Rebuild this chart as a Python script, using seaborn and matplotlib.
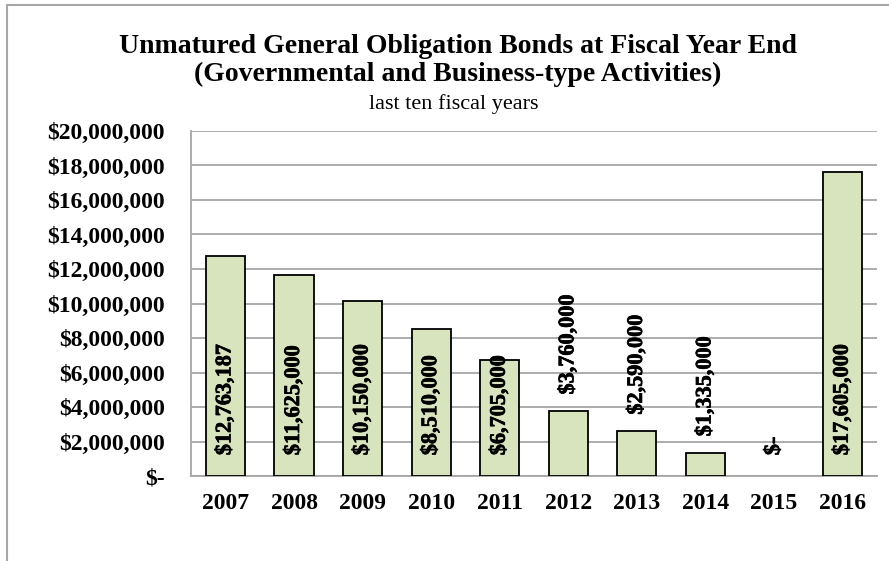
import numpy as np
import pandas as pd
import matplotlib
matplotlib.use("Agg")
import matplotlib.pyplot as plt
import matplotlib.patheffects as pe
import seaborn as sns
from matplotlib.patches import Rectangle
from matplotlib.ticker import FuncFormatter, FixedLocator

# --- data ---
years = ["2007", "2008", "2009", "2010", "2011", "2012", "2013", "2014", "2015", "2016"]
bonds = [12763187, 11625000, 10150000, 8510000, 6705000, 3760000, 2590000, 1335000, 0, 17605000]

df = pd.DataFrame({"year": years, "bonds": bonds})

sns.set_style("white")
plt.rcParams["font.family"] = ["Liberation Serif", "DejaVu Serif"]
plt.rcParams["text.color"] = "black"
plt.rcParams["xtick.labelcolor"] = "black"
plt.rcParams["ytick.labelcolor"] = "black"

fig = plt.figure(figsize=(8.89, 5.61), dpi=100)
ax = fig.add_axes([0.215, 0.1515, 0.7715, 0.615])

sns.barplot(data=df, x="year", y="bonds", color="#d7e4bd", edgecolor="black",
            linewidth=1.3, width=0.57, saturation=1, ax=ax, zorder=3)
# no outline for empty bars
for p in ax.patches:
    if p.get_height() == 0:
        p.set_linewidth(0)

ax.set_ylim(0, 20000000)
ax.set_xlim(-0.5, len(years) - 0.5)
ax.set_yticks(np.arange(0, 20000001, 2000000))

def money(v, pos=None):
    return "$-" if v == 0 else "${:,.0f}".format(v)

ax.yaxis.set_major_formatter(FuncFormatter(money))
ax.grid(axis="y", color="#a6a6a6", linewidth=1.3, zorder=0)
ax.set_axisbelow(True)
ax.set_xlabel("")
ax.set_ylabel("")

for s in ["top", "right"]:
    ax.spines[s].set_visible(False)
for s in ["left", "bottom"]:
    ax.spines[s].set_color("#a6a6a6")
    ax.spines[s].set_linewidth(1.3)

# tick marks at category boundaries, labels centred
ax.xaxis.set_minor_locator(FixedLocator(np.arange(-0.5, len(years), 1)))
ax.tick_params(axis="x", which="major", length=0, pad=12, labelsize=17, labelcolor="black")
ax.tick_params(axis="x", which="minor", length=6, width=1.3, color="#a6a6a6", direction="out")
ax.tick_params(axis="y", length=6, width=1.3, color="#a6a6a6", direction="out", pad=13,
               labelsize=17, labelcolor="black")
for lab in ax.get_xticklabels() + ax.get_yticklabels():
    lab.set_fontweight("bold")

# value labels (rotated, heavy)
heavy = [pe.withStroke(linewidth=0.5, foreground="black")]
for i, v in enumerate(bonds):
    if v >= 5000000 or v == 0:
        xy, off = (i, 0), 15
    else:
        xy, off = (i, v), 12
    ax.annotate(money(v), xy, xytext=(0, off), textcoords="offset points",
                rotation=90, ha="center", va="bottom", fontsize=16,
                fontweight="bold", color="black", path_effects=heavy)

# titles
fig.text(0.515, 0.918, "Unmatured General Obligation Bonds at Fiscal Year End",
         ha="center", va="center", fontsize=20, fontweight="bold", color="black")
fig.text(0.515, 0.867, "(Governmental and Business-type Activities)",
         ha="center", va="center", fontsize=20, fontweight="bold", color="black")
fig.text(0.51, 0.815, "last ten fiscal years", ha="center", va="center", fontsize=16,
         color="black")

# outer chart frame
fig.patches.append(Rectangle((7 / 889, -0.1), 1.2, 1 - 5 / 561 + 0.1, transform=fig.transFigure,
                             fill=False, edgecolor="#a6a6a6", linewidth=1.5))

fig.savefig("out.png", dpi=100, facecolor="white")
